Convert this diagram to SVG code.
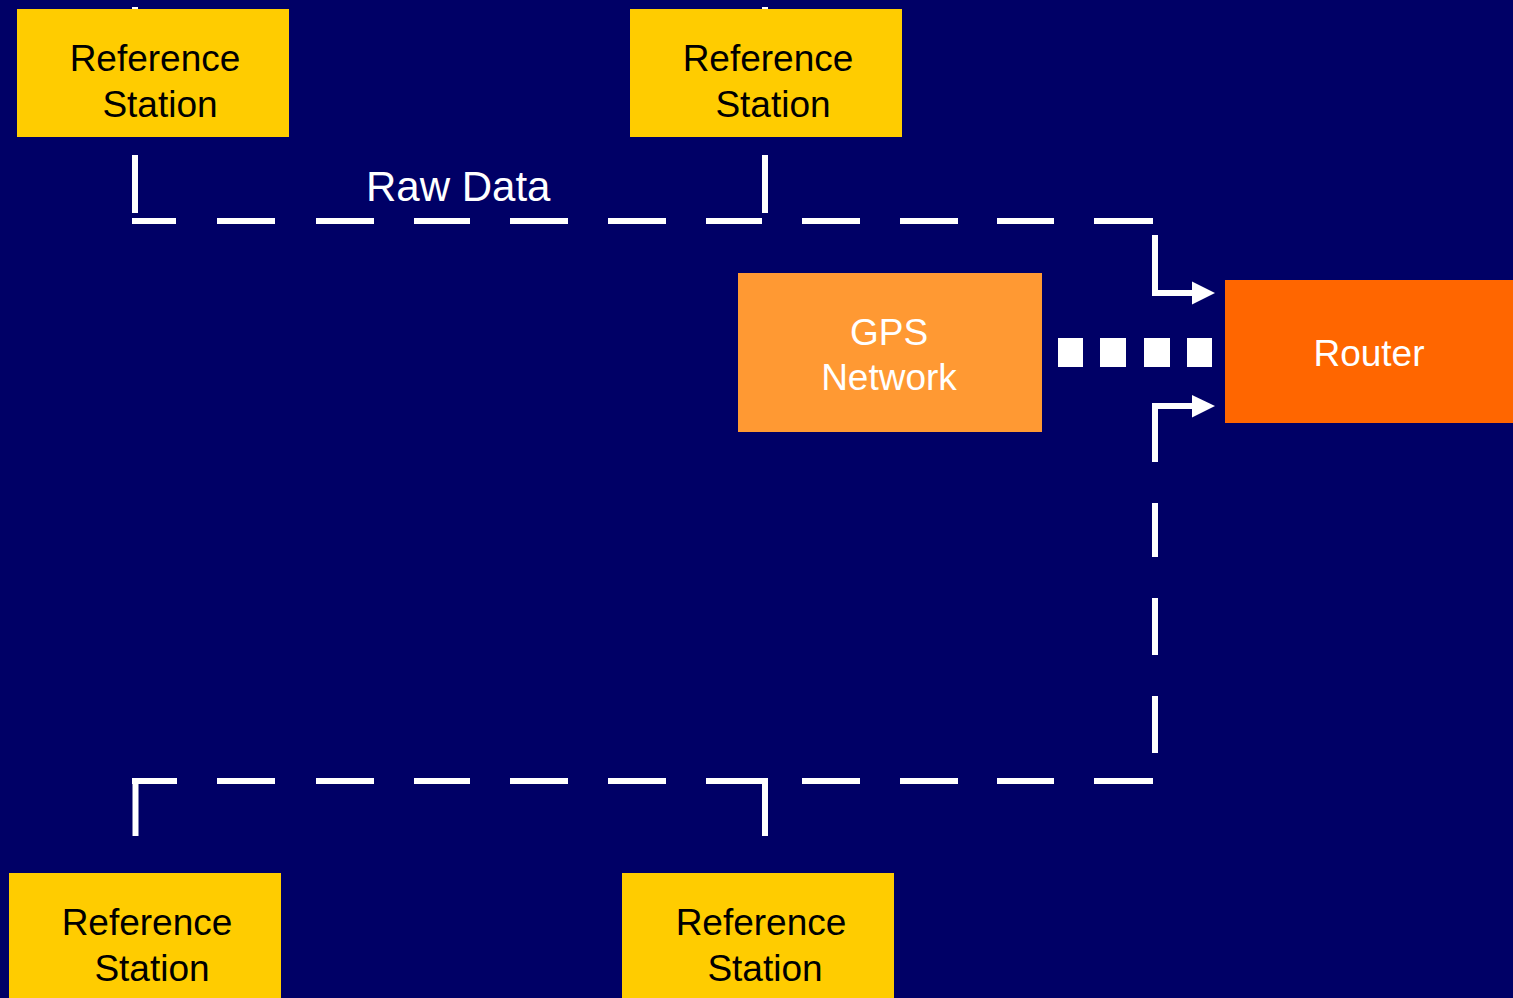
<svg xmlns="http://www.w3.org/2000/svg" width="1513" height="998" viewBox="0 0 1513 998">
<style>
.bg{fill:#000066}
.ref{fill:#FFCC00}
.gps{fill:#FF9933}
.router{fill:#FF6600}
.t{font-family:"Liberation Sans",Arial,sans-serif;font-size:37px;text-anchor:middle}
.dark{fill:#000000}
.light{fill:#FFFFFF}
.ln{stroke:#FFFFFF;stroke-width:6;fill:none;stroke-linecap:butt;stroke-linejoin:miter}
.head{fill:#FFFFFF}
.dot{fill:#FFFFFF}
</style>
<rect class="bg" x="0" y="0" width="1513" height="998"/>
<g id="connectors">
  <line class="ln" x1="135" y1="7" x2="135" y2="10"/>
  <line class="ln" x1="765" y1="7" x2="765" y2="10"/>
  <line class="ln" x1="135" y1="155" x2="135" y2="213"/>
  <line class="ln" x1="765" y1="155" x2="765" y2="213"/>
  <path class="ln" d="M132 221H176M217 221H275M316 221H374M414 221H470M510 221H568M608 221H666M706 221H762M802 221H860M900 221H958M997 221H1054M1094 221H1153"/>
  <path class="ln" d="M132 781H177M217 781H275M316 781H374M414 781H470M510 781H568M608 781H666M706 781H762M802 781H860M900 781H958M997 781H1054M1094 781H1153"/>
  <line class="ln" x1="135.5" y1="778" x2="135.5" y2="836"/>
  <line class="ln" x1="765" y1="778" x2="765" y2="836"/>
  <path class="ln" d="M1155 503V557M1155 598V655M1155 696V753"/>
  <polyline class="ln" points="1155,235 1155,293 1194,293"/>
  <polygon class="head" points="1192,281.5 1215,293 1192,304.5"/>
  <polyline class="ln" points="1155,462 1155,406 1194,406"/>
  <polygon class="head" points="1192,395 1215,406 1192,417.5"/>
  <rect class="dot" x="1058" y="338" width="25" height="29"/>
  <rect class="dot" x="1100" y="338" width="26" height="29"/>
  <rect class="dot" x="1144" y="338" width="26" height="29"/>
  <rect class="dot" x="1187" y="338" width="25" height="29"/>
  <text class="t light" x="366" y="201" style="text-anchor:start;font-size:42px">Raw Data</text>
</g>
<g id="ref-top-left">
  <rect class="ref" x="17" y="9" width="272" height="128"/>
  <text class="t dark" x="155" y="71">Reference</text>
  <text class="t dark" x="160" y="117">Station</text>
</g>
<g id="ref-top-right">
  <rect class="ref" x="630" y="9" width="272" height="128"/>
  <text class="t dark" x="768" y="71">Reference</text>
  <text class="t dark" x="773" y="117">Station</text>
</g>
<g id="gps-network">
  <rect class="gps" x="738" y="273" width="304" height="159"/>
  <text class="t light" x="889" y="345">GPS</text>
  <text class="t light" x="889" y="390">Network</text>
</g>
<g id="router">
  <rect class="router" x="1225" y="280" width="288" height="143"/>
  <text class="t light" x="1369" y="366">Router</text>
</g>
<g id="ref-bottom-left">
  <rect class="ref" x="9" y="873" width="272" height="125"/>
  <text class="t dark" x="147" y="935">Reference</text>
  <text class="t dark" x="152" y="981">Station</text>
</g>
<g id="ref-bottom-right">
  <rect class="ref" x="622" y="873" width="272" height="125"/>
  <text class="t dark" x="761" y="935">Reference</text>
  <text class="t dark" x="765" y="981">Station</text>
</g>
</svg>
